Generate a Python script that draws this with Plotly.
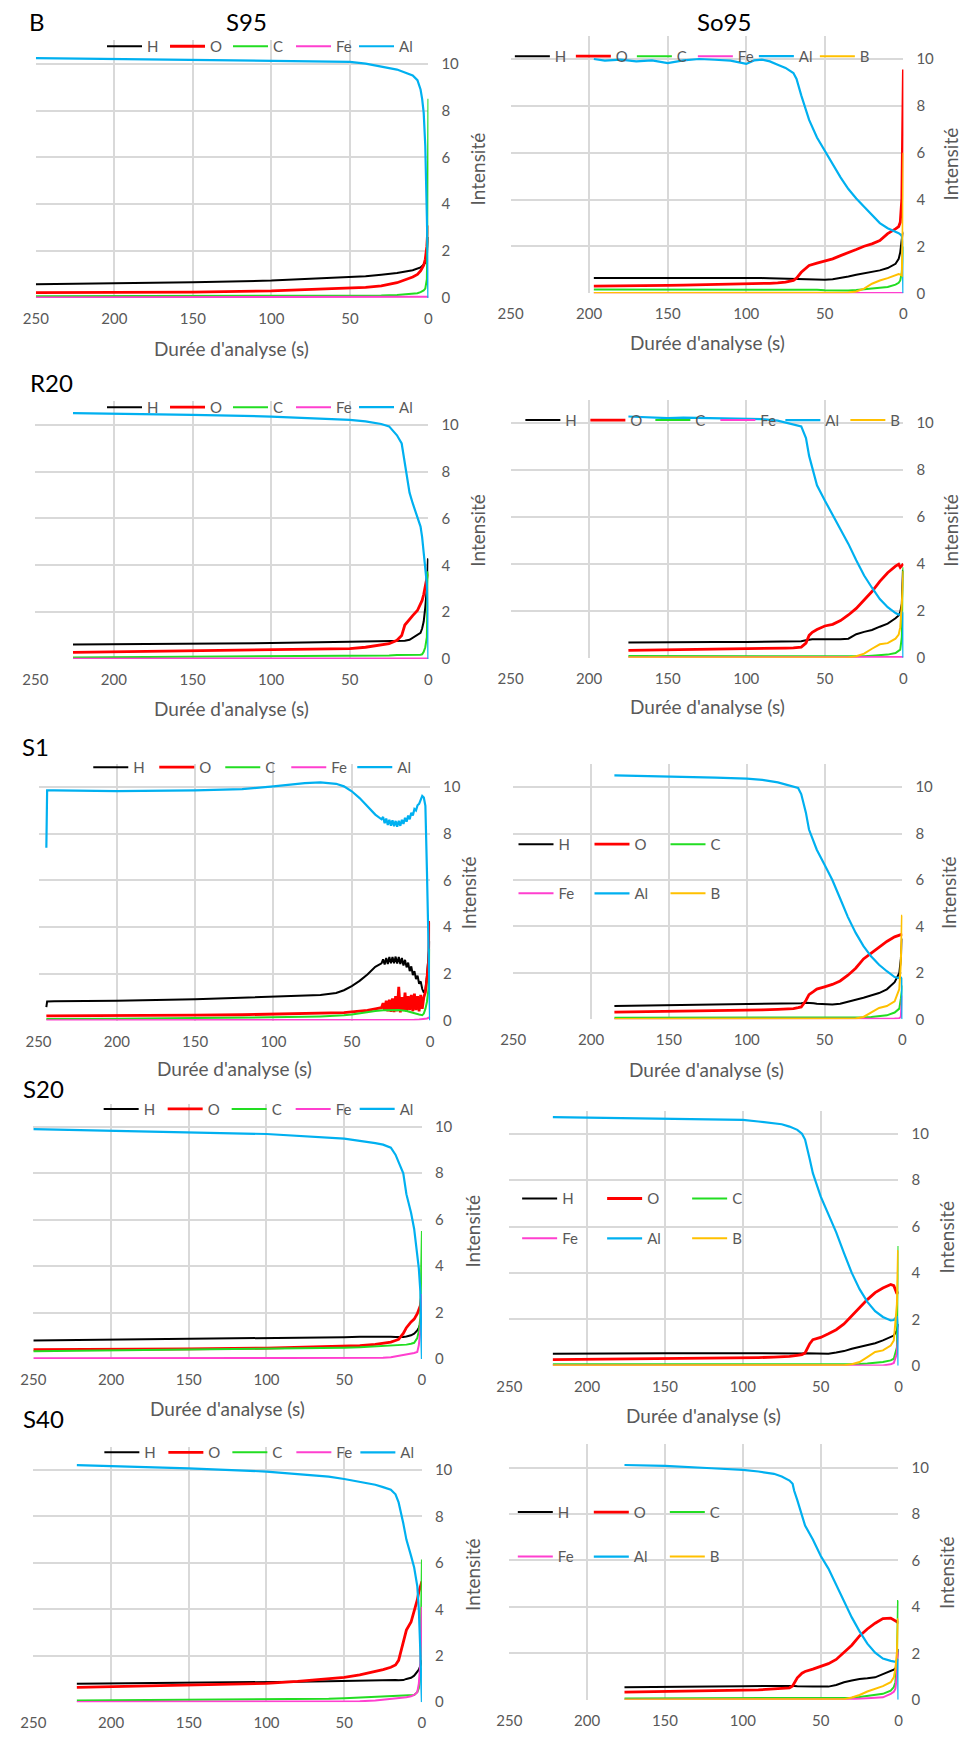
import plotly.graph_objects as go

# ---------------- DATA ----------------
# Panel 1 : B / S95
P1_t = [250, 200, 150, 100, 50, 40, 30, 20, 10, 7, 5, 4, 3, 2, 1, 0.5, 0.2, 0]
P1_H = [0.58, 0.61, 0.67, 0.74, 0.88, 0.93, 0.99, 1.06, 1.18, 1.24, 1.30, 1.36, 1.42, 1.50, 1.80, 2.40, 2.60, 2.60]
P1_O = [0.23, 0.23, 0.25, 0.30, 0.40, 0.45, 0.51, 0.65, 0.89, 1.00, 1.15, 1.25, 1.40, 1.65, 2.20, 2.80, 3.10, 3.10]
P1_C = [0.07, 0.07, 0.07, 0.07, 0.08, 0.09, 0.10, 0.13, 0.18, 0.20, 0.25, 0.28, 0.32, 0.40, 0.80, 3.00, 8.50, 8.50]
P1_Fe = [0.02, 0.02, 0.02, 0.02, 0.02, 0.02, 0.02, 0.02, 0.02, 0.02, 0.02, 0.02, 0.03, 0.03, 0.04, 0.05, 0.05, 0.05]
P1_Al = [10.24, 10.20, 10.16, 10.13, 10.08, 10.00, 9.89, 9.75, 9.50, 9.30, 8.90, 8.50, 7.90, 6.50, 3.50, 1.00, 0.30, 0]

# Panel 2 : So95
P2_t = [197, 190, 180, 170, 160, 150, 140, 130, 120, 110, 100, 95, 90, 85, 80, 75, 70, 68, 65, 62,
        60, 55, 50, 45, 40, 35, 30, 25, 20, 15, 10, 5, 3, 2, 1, 0.5, 0.2, 0]
P2_H = [0.65, 0.65, 0.66, 0.66, 0.67, 0.68, 0.68, 0.67, 0.67, 0.66, 0.66, 0.65, 0.65, 0.64, 0.63, 0.62, 0.62, 0.61, 0.61, 0.60,
        0.60, 0.59, 0.58, 0.60, 0.65, 0.72, 0.79, 0.85, 0.91, 0.98, 1.08, 1.26, 1.47, 1.76, 2.32, 2.60, 2.60, 2.60]
P2_O = [0.31, 0.31, 0.32, 0.33, 0.33, 0.34, 0.35, 0.36, 0.37, 0.38, 0.40, 0.41, 0.42, 0.43, 0.45, 0.48, 0.55, 0.65, 0.90, 1.08,
        1.19, 1.29, 1.37, 1.47, 1.61, 1.73, 1.87, 2.01, 2.11, 2.25, 2.55, 2.75, 2.85, 3.03, 4.02, 6.86, 9.55, 9.55]
P2_C = [0.16, 0.16, 0.16, 0.16, 0.17, 0.17, 0.17, 0.17, 0.17, 0.17, 0.17, 0.17, 0.17, 0.18, 0.18, 0.18, 0.18, 0.17, 0.17, 0.16,
        0.16, 0.15, 0.13, 0.12, 0.11, 0.12, 0.14, 0.17, 0.20, 0.23, 0.27, 0.37, 0.45, 0.55, 0.90, 1.50, 2.00, 2.00]
P2_Fe = [0.01, 0.01, 0.01, 0.01, 0.01, 0.01, 0.01, 0.01, 0.01, 0.01, 0.01, 0.01, 0.01, 0.01, 0.01, 0.01, 0.01, 0.01, 0.01, 0.01,
         0.01, 0.01, 0.01, 0.01, 0.01, 0.01, 0.01, 0.01, 0.01, 0.01, 0.01, 0.01, 0.01, 0.01, 0.01, 0.01, 0.02, 0.02]
P2_Al = [10.00, 9.93, 9.97, 9.90, 9.94, 9.83, 9.94, 10.00, 9.97, 9.93, 9.79, 9.94, 9.97, 9.90, 9.76, 9.62, 9.40, 9.15, 8.45, 7.75,
         7.40, 6.65, 6.07, 5.50, 4.95, 4.45, 4.05, 3.70, 3.35, 3.00, 2.78, 2.65, 2.57, 2.52, 2.45, 2.20, 1.00, 0]
P2_B = [0.01, 0.01, 0.01, 0.01, 0.01, 0.01, 0.01, 0.01, 0.01, 0.01, 0.01, 0.01, 0.01, 0.01, 0.01, 0.01, 0.01, 0.01, 0.01, 0.01,
        0.01, 0.01, 0.01, 0.01, 0.02, 0.04, 0.08, 0.20, 0.41, 0.55, 0.65, 0.79, 0.82, 0.80, 0.76, 2.60, 6.00, 6.00]

# Panel 3 : R20
P3_t = [226, 200, 150, 100, 50, 40, 30, 25, 20, 17, 15, 12, 10, 7, 5, 4, 3, 2, 1, 0.3, 0]
P3_H = [0.62, 0.63, 0.65, 0.68, 0.74, 0.75, 0.75, 0.75, 0.76, 0.77, 0.78, 0.82, 0.90, 1.02, 1.12, 1.30, 1.60, 2.20, 3.00, 4.26, 4.26]
P3_O = [0.28, 0.30, 0.34, 0.37, 0.44, 0.50, 0.58, 0.65, 0.80, 1.00, 1.45, 1.72, 1.85, 2.07, 2.35, 2.50, 2.75, 3.20, 3.45, 3.63, 3.63]
P3_C = [0.06, 0.07, 0.08, 0.09, 0.11, 0.12, 0.14, 0.15, 0.17, 0.17, 0.17, 0.16, 0.16, 0.17, 0.18, 0.20, 0.30, 0.50, 0.93, 3.70, 3.70]
P3_Fe = [0.01, 0.01, 0.01, 0.01, 0.01, 0.01, 0.01, 0.01, 0.01, 0.01, 0.01, 0.01, 0.01, 0.01, 0.01, 0.01, 0.01, 0.01, 0.02, 0.02, 0.02]
P3_Al = [10.50, 10.48, 10.42, 10.35, 10.21, 10.14, 10.03, 9.93, 9.55, 9.20, 8.40, 7.10, 6.65, 6.10, 5.65, 5.20, 4.60, 3.90, 3.20, 2.20, 0]

# Panel 4 : right, row 2
P4_t = [175, 160, 150, 140, 120, 100, 90, 80, 75, 70, 65, 62, 60, 58, 55, 50, 45, 40, 35, 30, 25, 20, 15, 10, 5, 3, 2, 1, 0.3, 0]
P4_H = [0.65, 0.66, 0.67, 0.67, 0.67, 0.67, 0.68, 0.68, 0.68, 0.69, 0.70, 0.74, 0.77, 0.78, 0.78,
        0.77, 0.77, 0.78, 0.81, 1.00, 1.10, 1.18, 1.32, 1.45, 1.68, 1.80, 1.95, 2.30, 3.70, 3.70]
P4_O = [0.31, 0.32, 0.34, 0.35, 0.36, 0.38, 0.39, 0.40, 0.41, 0.42, 0.45, 0.62, 0.95, 1.08, 1.20,
        1.35, 1.42, 1.58, 1.82, 2.10, 2.48, 2.82, 3.25, 3.62, 3.90, 3.98, 3.85, 3.95, 4.00, 4.00]
P4_C = [0.07, 0.07, 0.07, 0.07, 0.07, 0.07, 0.07, 0.07, 0.07, 0.07, 0.07, 0.07, 0.07, 0.06, 0.06,
        0.05, 0.05, 0.04, 0.04, 0.05, 0.06, 0.08, 0.10, 0.13, 0.20, 0.28, 0.34, 0.88, 3.85, 3.85]
P4_Fe = [0.01, 0.01, 0.01, 0.01, 0.01, 0.01, 0.01, 0.01, 0.01, 0.01, 0.01, 0.01, 0.01, 0.01, 0.01,
         0.01, 0.01, 0.01, 0.01, 0.01, 0.01, 0.01, 0.01, 0.01, 0.01, 0.01, 0.01, 0.02, 0.03, 0.03]
P4_Al = [10.28, 10.24, 10.21, 10.23, 10.21, 10.18, 10.17, 10.10, 10.02, 9.95, 9.86, 9.36, 8.60, 8.10, 7.35,
         6.70, 6.10, 5.50, 4.85, 4.15, 3.50, 2.98, 2.50, 2.15, 1.90, 1.84, 1.85, 1.95, 1.90, 0]
P4_B = [0.01, 0.01, 0.01, 0.01, 0.01, 0.01, 0.01, 0.01, 0.01, 0.01, 0.01, 0.01, 0.01, 0.01, 0.01,
        0.01, 0.01, 0.01, 0.01, 0.06, 0.17, 0.38, 0.57, 0.62, 0.81, 0.98, 1.30, 2.29, 3.70, 3.70]

# Panel 5 : S1  (H, O and Al are read on a finer grid: they are noisy between 30 s and 4 s)
P5_t = [245, 244.5, 240, 200, 150, 120, 100, 90, 80, 70, 60, 55, 50, 45, 40, 35, 30, 25, 20, 15, 10, 7, 5, 4, 3, 2, 1, 0.3, 0]
P5_tn = [245, 244.5, 240, 200, 150, 120, 100, 90, 80, 70, 60, 55, 50, 45, 40, 35,
         31, 30, 29, 28, 27, 26, 25, 24, 23, 22, 21, 20, 19, 18, 17, 16, 15, 14, 13, 12, 11, 10, 9, 8, 7, 6, 5, 4,
         3, 2, 1, 0.3, 0]
P5_H = [0.58, 0.82, 0.83, 0.85, 0.91, 0.97, 1.03, 1.05, 1.07, 1.10, 1.18, 1.30, 1.48, 1.70, 1.97, 2.30,
        2.45, 2.62, 2.40, 2.68, 2.42, 2.72, 2.45, 2.72, 2.46, 2.74, 2.44, 2.72, 2.42, 2.68, 2.36, 2.60, 2.28, 2.48,
        2.12, 2.32, 1.95, 2.12, 1.78, 1.92, 1.58, 1.68, 1.35, 1.20,
        1.30, 1.90, 2.80, 3.40, 3.40]
P5_O = [0.20, 0.20, 0.20, 0.20, 0.23, 0.25, 0.27, 0.28, 0.29, 0.30, 0.32, 0.34, 0.37, 0.40, 0.44, 0.50,
        0.55, 0.75, 0.42, 0.85, 0.40, 0.90, 0.38, 0.95, 0.36, 1.05, 0.40, 1.45, 0.35, 1.00, 0.42, 1.20, 0.38, 1.05,
        0.45, 1.10, 0.40, 1.15, 0.45, 1.05, 0.40, 1.10, 0.50, 1.00,
        1.22, 1.79, 2.50, 4.20, 4.20]
P5_Al = [7.40, 9.86, 9.86, 9.83, 9.86, 9.91, 10.03, 10.10, 10.17, 10.20, 10.14, 10.03, 9.82, 9.53, 9.18, 8.82,
         8.62, 8.72, 8.45, 8.65, 8.38, 8.60, 8.35, 8.58, 8.32, 8.55, 8.30, 8.56, 8.34, 8.60, 8.42, 8.68, 8.52, 8.78,
         8.62, 8.90, 8.78, 9.06, 9.00, 9.22, 9.28, 9.48, 9.62, 9.55,
         9.20, 6.40, 3.80, 1.50, 0]
P5_C = [0.07, 0.07, 0.07, 0.08, 0.11, 0.12, 0.14, 0.15, 0.16, 0.18, 0.20, 0.23, 0.26, 0.32, 0.37,
        0.41, 0.44, 0.45, 0.45, 0.41, 0.30, 0.26, 0.23, 0.30, 0.50, 0.80, 1.36, 3.07, 3.07]
P5_Fe = [0.01, 0.01, 0.01, 0.01, 0.01, 0.01, 0.01, 0.01, 0.01, 0.01, 0.01, 0.01, 0.01, 0.01, 0.01,
         0.01, 0.01, 0.01, 0.02, 0.03, 0.04, 0.05, 0.06, 0.07, 0.08, 0.09, 0.12, 0.16, 0.16]

# Panel 6 : right, row 3
P6_t = [185, 150, 120, 100, 90, 80, 75, 70, 67, 65, 62, 60, 57, 55, 50, 45, 40, 35, 30, 25, 20, 15, 10, 5, 2, 1, 0.3, 0]
P6_H = [0.57, 0.60, 0.62, 0.64, 0.65, 0.66, 0.67, 0.67, 0.68, 0.69, 0.71, 0.71, 0.69, 0.67,
        0.66, 0.64, 0.67, 0.74, 0.84, 0.93, 1.03, 1.13, 1.29, 1.60, 2.00, 2.60, 3.46, 3.46]
P6_O = [0.31, 0.34, 0.36, 0.39, 0.41, 0.43, 0.44, 0.46, 0.50, 0.53, 0.81, 1.06, 1.20, 1.30,
        1.40, 1.50, 1.65, 1.90, 2.20, 2.60, 2.85, 3.10, 3.35, 3.55, 3.63, 3.67, 3.67, 3.67]
P6_C = [0.07, 0.07, 0.08, 0.08, 0.09, 0.09, 0.09, 0.09, 0.09, 0.08, 0.08, 0.07, 0.07, 0.06,
        0.06, 0.06, 0.06, 0.07, 0.07, 0.08, 0.10, 0.12, 0.17, 0.29, 0.46, 0.89, 1.46, 1.46]
P6_Fe = [0.01, 0.01, 0.01, 0.01, 0.01, 0.01, 0.01, 0.01, 0.01, 0.01, 0.01, 0.01, 0.01, 0.01,
         0.01, 0.01, 0.01, 0.01, 0.01, 0.01, 0.01, 0.01, 0.01, 0.03, 0.05, 0.10, 1.00, 1.00]
P6_Al = [10.50, 10.46, 10.41, 10.36, 10.31, 10.20, 10.10, 10.00, 9.96, 9.70, 8.90, 8.17, 7.60, 7.30,
         6.65, 6.00, 5.20, 4.40, 3.72, 3.15, 2.70, 2.35, 2.07, 1.82, 1.77, 1.80, 1.75, 0]
P6_B = [0.01, 0.01, 0.01, 0.01, 0.01, 0.01, 0.01, 0.01, 0.01, 0.01, 0.01, 0.01, 0.01, 0.01,
        0.01, 0.01, 0.01, 0.01, 0.03, 0.10, 0.31, 0.49, 0.57, 0.77, 1.30, 2.46, 4.46, 4.46]

# Panel 7 : S20
P7_t = [250, 200, 150, 100, 50, 40, 30, 25, 20, 17, 15, 12, 10, 7, 5, 3, 2, 1, 0.3, 0]
P7_H = [0.80, 0.83, 0.86, 0.89, 0.94, 0.96, 0.97, 0.97, 0.96, 0.95, 0.94, 0.95, 0.97, 1.02, 1.09, 1.23, 1.35, 1.51, 1.80, 1.80]
P7_O = [0.40, 0.41, 0.44, 0.47, 0.54, 0.58, 0.63, 0.67, 0.73, 0.80, 0.85, 1.10, 1.35, 1.60, 1.72, 1.95, 2.10, 2.30, 2.66, 2.66]
P7_C = [0.34, 0.37, 0.40, 0.43, 0.49, 0.51, 0.54, 0.56, 0.59, 0.60, 0.61, 0.62, 0.62, 0.66, 0.70, 0.90, 1.20, 1.80, 5.51, 5.51]
P7_Fe = [0.03, 0.03, 0.03, 0.03, 0.03, 0.03, 0.04, 0.05, 0.08, 0.11, 0.13, 0.18, 0.20, 0.24, 0.26, 0.30, 0.60, 1.23, 2.80, 2.80]
P7_Al = [9.90, 9.84, 9.77, 9.69, 9.49, 9.40, 9.30, 9.23, 9.10, 8.80, 8.50, 8.00, 7.10, 6.30, 5.60, 4.60, 3.90, 2.90, 1.50, 0]

# Panel 8 : right, row 4
P8_t = [222, 200, 150, 100, 90, 80, 75, 70, 65, 62, 60, 57, 55, 50, 45, 40, 35, 30, 25, 20, 15, 10, 5, 3, 1, 0.3, 0]
P8_H = [0.52, 0.53, 0.54, 0.54, 0.53, 0.53, 0.53, 0.52, 0.52, 0.53, 0.54, 0.54, 0.54, 0.54,
        0.52, 0.57, 0.63, 0.73, 0.80, 0.87, 0.97, 1.09, 1.23, 1.30, 1.52, 1.80, 1.80]
P8_O = [0.26, 0.27, 0.30, 0.34, 0.35, 0.37, 0.38, 0.40, 0.45, 0.48, 0.55, 0.95, 1.12, 1.22,
        1.38, 1.55, 1.80, 2.15, 2.50, 2.85, 3.15, 3.35, 3.50, 3.45, 3.10, 3.20, 3.20]
P8_C = [0.06, 0.06, 0.06, 0.06, 0.06, 0.06, 0.06, 0.06, 0.06, 0.05, 0.05, 0.05, 0.05, 0.04,
        0.04, 0.05, 0.05, 0.06, 0.07, 0.09, 0.12, 0.16, 0.23, 0.30, 0.80, 5.16, 5.16]
P8_Fe = [0.01, 0.01, 0.01, 0.01, 0.01, 0.01, 0.01, 0.01, 0.01, 0.01, 0.01, 0.01, 0.01, 0.01,
         0.01, 0.01, 0.01, 0.01, 0.01, 0.01, 0.01, 0.01, 0.06, 0.12, 0.52, 1.66, 1.66]
P8_Al = [10.72, 10.70, 10.67, 10.60, 10.53, 10.46, 10.41, 10.31, 10.17, 10.00, 9.75, 8.90, 8.30, 7.30,
         6.55, 5.75, 4.85, 4.00, 3.30, 2.75, 2.35, 2.10, 1.95, 1.97, 2.12, 1.80, 0]
P8_B = [0.01, 0.01, 0.01, 0.01, 0.01, 0.01, 0.01, 0.01, 0.01, 0.01, 0.01, 0.01, 0.01, 0.01,
        0.01, 0.01, 0.02, 0.06, 0.16, 0.37, 0.59, 0.66, 0.87, 1.09, 2.66, 4.95, 4.95]

# Panel 9 : S40
P9_t = [222, 200, 150, 100, 80, 60, 50, 40, 30, 25, 20, 17, 15, 12, 10, 7, 5, 3, 2, 1, 0.3, 0]
P9_H = [0.79, 0.80, 0.83, 0.86, 0.88, 0.90, 0.91, 0.93, 0.96, 0.96, 0.96, 0.95, 0.94, 0.95, 1.00, 1.05, 1.14, 1.29, 1.40, 1.57, 1.80, 1.80]
P9_O = [0.64, 0.67, 0.74, 0.81, 0.89, 1.00, 1.07, 1.17, 1.31, 1.40, 1.50, 1.60, 1.80, 2.65, 3.10, 3.45, 3.90, 4.40, 4.75, 5.00, 5.20, 5.20]
P9_C = [0.07, 0.08, 0.10, 0.11, 0.13, 0.15, 0.17, 0.20, 0.24, 0.27, 0.29, 0.29, 0.29, 0.29, 0.29, 0.30, 0.31, 0.43, 0.60, 1.14, 6.14, 6.14]
P9_Fe = [0.01, 0.01, 0.01, 0.02, 0.02, 0.03, 0.03, 0.04, 0.07, 0.10, 0.14, 0.16, 0.18, 0.20, 0.21, 0.25, 0.31, 0.43, 0.80, 1.71, 4.11, 4.11]
P9_Al = [10.21, 10.17, 10.07, 9.93, 9.83, 9.71, 9.61, 9.50, 9.36, 9.26, 9.15, 8.95, 8.60, 7.70, 7.00, 6.30, 5.80, 5.00, 4.00, 2.14, 0.80, 0]

# Panel 10 : right, row 5
P10_t = [176, 150, 120, 100, 90, 80, 75, 72, 70, 68, 67, 65, 62, 60, 55, 50, 45, 40, 35, 30, 25, 20, 15, 10, 5, 3, 2, 1, 0.3, 0]
P10_H = [0.54, 0.57, 0.58, 0.59, 0.60, 0.61, 0.61, 0.61, 0.61, 0.60, 0.60, 0.59, 0.58, 0.57, 0.57,
         0.57, 0.57, 0.64, 0.76, 0.83, 0.90, 0.93, 0.97, 1.11, 1.26, 1.30, 1.33, 1.61, 2.19, 2.19]
P10_O = [0.33, 0.36, 0.39, 0.41, 0.43, 0.47, 0.49, 0.50, 0.52, 0.60, 0.70, 0.95, 1.15, 1.22, 1.32,
         1.43, 1.56, 1.74, 2.05, 2.35, 2.75, 3.05, 3.30, 3.50, 3.52, 3.42, 3.38, 3.36, 3.33, 3.33]
P10_C = [0.06, 0.06, 0.06, 0.06, 0.06, 0.06, 0.06, 0.06, 0.06, 0.06, 0.06, 0.06, 0.06, 0.06, 0.06,
         0.06, 0.06, 0.06, 0.06, 0.09, 0.12, 0.16, 0.20, 0.26, 0.40, 0.55, 0.76, 1.61, 4.26, 4.26]
P10_Fe = [0.01, 0.01, 0.01, 0.01, 0.01, 0.01, 0.01, 0.01, 0.01, 0.01, 0.01, 0.01, 0.01, 0.01, 0.01,
          0.01, 0.01, 0.01, 0.01, 0.03, 0.05, 0.07, 0.09, 0.11, 0.26, 0.35, 0.47, 1.04, 2.04, 2.04]
P10_Al = [10.11, 10.07, 9.97, 9.90, 9.83, 9.73, 9.61, 9.52, 9.44, 9.30, 9.00, 8.60, 7.90, 7.50, 6.90,
          6.20, 5.65, 4.95, 4.25, 3.55, 2.95, 2.42, 2.03, 1.78, 1.68, 1.65, 1.64, 1.70, 1.76, 0]
P10_B = [0.01, 0.01, 0.01, 0.01, 0.01, 0.01, 0.01, 0.01, 0.01, 0.01, 0.01, 0.01, 0.01, 0.01, 0.01,
         0.01, 0.01, 0.01, 0.03, 0.10, 0.21, 0.36, 0.47, 0.59, 0.76, 0.97, 1.33, 2.04, 3.47, 3.47]

X_TICKS = [250, 200, 150, 100, 50, 0]
Y_TICKS = [0, 2, 4, 6, 8, 10]
X_TITLE = "Durée d'analyse (s)"
Y_TITLE = "Intensité"

# each series: (element, values, times)
PANELS = [
    [("H", P1_H, P1_t), ("O", P1_O, P1_t), ("C", P1_C, P1_t), ("Fe", P1_Fe, P1_t), ("Al", P1_Al, P1_t)],
    [("H", P2_H, P2_t), ("O", P2_O, P2_t), ("C", P2_C, P2_t), ("Fe", P2_Fe, P2_t), ("Al", P2_Al, P2_t), ("B", P2_B, P2_t)],
    [("H", P3_H, P3_t), ("O", P3_O, P3_t), ("C", P3_C, P3_t), ("Fe", P3_Fe, P3_t), ("Al", P3_Al, P3_t)],
    [("H", P4_H, P4_t), ("O", P4_O, P4_t), ("C", P4_C, P4_t), ("Fe", P4_Fe, P4_t), ("Al", P4_Al, P4_t), ("B", P4_B, P4_t)],
    [("H", P5_H, P5_tn), ("O", P5_O, P5_tn), ("C", P5_C, P5_t), ("Fe", P5_Fe, P5_t), ("Al", P5_Al, P5_tn)],
    [("H", P6_H, P6_t), ("O", P6_O, P6_t), ("C", P6_C, P6_t), ("Fe", P6_Fe, P6_t), ("Al", P6_Al, P6_t), ("B", P6_B, P6_t)],
    [("H", P7_H, P7_t), ("O", P7_O, P7_t), ("C", P7_C, P7_t), ("Fe", P7_Fe, P7_t), ("Al", P7_Al, P7_t)],
    [("H", P8_H, P8_t), ("O", P8_O, P8_t), ("C", P8_C, P8_t), ("Fe", P8_Fe, P8_t), ("Al", P8_Al, P8_t), ("B", P8_B, P8_t)],
    [("H", P9_H, P9_t), ("O", P9_O, P9_t), ("C", P9_C, P9_t), ("Fe", P9_Fe, P9_t), ("Al", P9_Al, P9_t)],
    [("H", P10_H, P10_t), ("O", P10_O, P10_t), ("C", P10_C, P10_t), ("Fe", P10_Fe, P10_t), ("Al", P10_Al, P10_t), ("B", P10_B, P10_t)],
]

# ---------------- STYLE / LAYOUT ----------------
W, H = 966, 1742
FONT = "Lato, 'Open Sans', sans-serif"
TXT = "#595959"
GRID = "#d9d9d9"
COLORS = {"H": "#000000", "O": "#ff0000", "C": "#22dd22", "Fe": "#ff3fcf", "Al": "#00b0f0", "B": "#ffc000"}
WIDTHS = {"H": 2, "O": 2.8, "C": 2, "Fe": 2, "Al": 2.2, "B": 2}

# plot area in pixels: left, right, y-pixel of value 0, y-pixel of value 10
GEOM = [
    (23.3, 423.3, 299.3, 64.0),
    (507.0, 907.3, 294.7, 59.3),
    (22.7, 423.3, 662.0, 426.7),
    (507.0, 907.3, 660.7, 425.0),
    (26.0, 425.0, 1025.3, 790.7),
    (509.7, 906.3, 1024.0, 790.7),
    (20.7, 416.7, 1365.3, 1132.0),
    (505.7, 902.3, 1372.0, 1139.0),
    (20.7, 416.7, 1710.0, 1476.7),
    (505.7, 902.3, 1707.7, 1474.3),
]
YMAX = 11

# legends per panel: list of (first-line-x px, y px, entry width, names)
LEGENDS = [
    [(96.7, 46.7, 13, ["H", "O", "C", "Fe", "Al"])],
    [(512.3, 56.7, 11, ["H", "O", "C", "Fe", "Al", "B"])],
    [(96.7, 409.3, 13, ["H", "O", "C", "Fe", "Al"])],
    [(523.0, 422.3, 15, ["H", "O", "C", "Fe", "Al", "B"])],
    [(82.7, 771.0, 16, ["H", "O", "C", "Fe", "Al"])],
    [(516.0, 848.3, 26, ["H", "O", "C"]), (516.0, 897.7, 26, ["Fe", "Al", "B"])],
    [(93.3, 1114.3, 14, ["H", "O", "C", "Fe", "Al"])],
    [(519.7, 1204.3, 35, ["H", "O", "C"]), (519.7, 1244.3, 35, ["Fe", "Al", "B"])],
    [(94.0, 1459.3, 14, ["H", "O", "C", "Fe", "Al"])],
    [(515.3, 1519.3, 26, ["H", "O", "C"]), (515.3, 1564.0, 26, ["Fe", "Al", "B"])],
]

PANEL_LABELS = [("B", 24.5, 22), ("S95", 237.5, 22), ("So95", 725, 22), ("R20", 39.5, 384),
                ("S1", 22.5, 750), ("S20", 31, 1093.5), ("S40", 31, 1425.5)]
XTITLE_POS = [(223, 350), (707.5, 344), (223, 711.7), (707.5, 710), (226, 1073), (707, 1074), (219, 1415), (704, 1421.7)]
YTITLE_POS = [(473, 170), (955, 165), (473, 533), (955, 533), (465, 897), (954, 897), (468, 1237), (951, 1243), (468, 1582), (951, 1580)]

for k, ser in enumerate(PANELS):
    for nm, v, t in ser:
        if len(v) != len(t):
            raise ValueError(f"panel {k+1} {nm}: {len(v)} vs {len(t)}")

fig = go.Figure()
layout = {}
leg_counter = 0
for i, ser in enumerate(PANELS):
    k = i + 1
    sfx = "" if k == 1 else str(k)
    name_to_leg = {}
    for (lx, ly, ew, names) in LEGENDS[i]:
        leg_counter += 1
        lid = "legend" if leg_counter == 1 else f"legend{leg_counter}"
        for nm in names:
            name_to_leg[nm] = lid
        layout[lid] = dict(
            orientation="h", x=(lx - 6) / W, y=1 - ly / H, xanchor="left", yanchor="middle",
            bgcolor="rgba(0,0,0,0)", borderwidth=0, font=dict(size=15, color=TXT, family=FONT),
            entrywidth=ew, entrywidthmode="pixels", itemwidth=35, tracegroupgap=0,
            itemclick=False, itemdoubleclick=False,
        )
    for nm, vals, t in ser:
        fig.add_trace(go.Scatter(
            x=t, y=vals, mode="lines", name=nm,
            line=dict(color=COLORS[nm], width=WIDTHS[nm]),
            xaxis="x" + sfx, yaxis="y" + sfx, legend=name_to_leg[nm], showlegend=True,
            hoverinfo="skip",
        ))
    l, r, y0, y10 = GEOM[i]
    top = y0 - YMAX / 10 * (y0 - y10)
    layout["xaxis" + sfx] = dict(
        domain=[l / W, r / W], range=[250, 0], anchor="y" + sfx,
        tickvals=X_TICKS, showgrid=True, gridcolor=GRID, gridwidth=1.5,
        zeroline=False, showline=False, ticks="",
        tickfont=dict(size=15, color=TXT, family=FONT), ticklabelstandoff=10, fixedrange=True,
    )
    layout["yaxis" + sfx] = dict(
        domain=[1 - y0 / H, 1 - top / H], range=[0, YMAX], anchor="x" + sfx, side="right",
        tickvals=Y_TICKS, showgrid=True, gridcolor=GRID, gridwidth=1.5,
        zeroline=False, showline=False, ticks="",
        tickfont=dict(size=15, color=TXT, family=FONT), ticklabelstandoff=12, fixedrange=True,
    )

annotations = []
for txt, x, y in PANEL_LABELS:
    annotations.append(dict(text=txt, x=x / W, y=1 - y / H, xref="paper", yref="paper",
                            xanchor="center", yanchor="middle", showarrow=False,
                            font=dict(size=24, color="#000000", family=FONT)))
for x, y in XTITLE_POS:
    annotations.append(dict(text=X_TITLE, x=x / W, y=1 - y / H, xref="paper", yref="paper",
                            xanchor="center", yanchor="middle", showarrow=False,
                            font=dict(size=19, color=TXT, family=FONT)))
for x, y in YTITLE_POS:
    annotations.append(dict(text=Y_TITLE, x=x / W, y=1 - y / H, xref="paper", yref="paper",
                            xanchor="center", yanchor="middle", showarrow=False, textangle=-90,
                            font=dict(size=19, color=TXT, family=FONT)))

fig.update_layout(
    width=W, height=H, autosize=False,
    margin=dict(l=0, r=0, t=0, b=0),
    paper_bgcolor="#ffffff", plot_bgcolor="#ffffff",
    font=dict(family=FONT, color=TXT),
    annotations=annotations,
    **layout,
)
fig.write_html(
    "out.html",
    config={"displayModeBar": False},
    post_script="document.body.style.margin='0px';document.body.style.overflow='hidden';",
)
